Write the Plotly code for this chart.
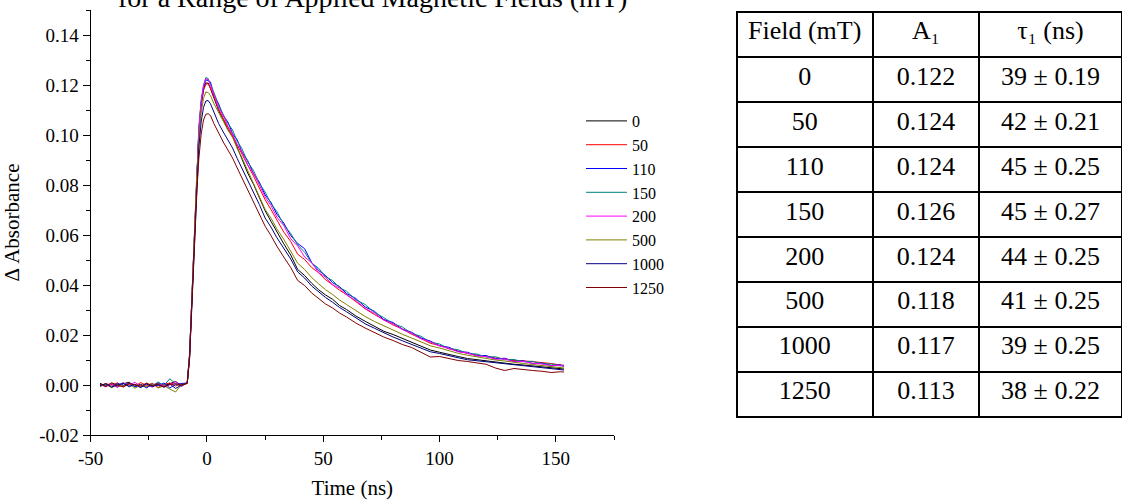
import plotly.graph_objects as go

# ---------------- data ----------------
fields = ["0", "50", "110", "150", "200", "500", "1000", "1250"]
colors = ["#000000", "#FF0000", "#0000FF", "#008080", "#FF00FF", "#808000", "#000080", "#800000"]

time_ns = [-46, -43.5, -41, -38.5, -36, -33.5, -31, -28.5, -26, -23.5, -21, -18.5, -16, -13.5, -11,
           -8.5, -7.5, -6.5, -5.5, -4.5, -3.5, -2.5, -1.5, -0.5,
           0.5, 1.5, 3, 5, 7, 9, 11, 13, 15,
           17.5, 20, 22.5, 25, 27.5, 30,
           33, 36, 39, 42, 45, 48, 51, 54, 57, 60,
           64, 68, 72, 76, 80, 84, 88, 92, 96, 100,
           104, 108, 112, 116, 120, 124, 128, 132, 136, 140,
           144, 148, 152, 153.5]

abs_0 = [0.0007, -0.0004, 0.0002, -0.0008, 0.0005, 0.0011, -0.0006, 0.0003, -0.0009, 0.0001, 0.0008, -0.0003, 0.0006, 0.0014, -0.0002,
         0.0008, 0.0118, 0.0355, 0.0612, 0.0845, 0.1012, 0.1120, 0.1182, 0.1208,
         0.1208, 0.1185, 0.1148, 0.1098, 0.1062, 0.1021, 0.0996, 0.0948, 0.0905,
         0.0848, 0.0803, 0.0752, 0.0697, 0.0655, 0.0612,
         0.0565, 0.0520, 0.0462, 0.0438, 0.0407, 0.0381, 0.0360, 0.0343, 0.0318, 0.0302,
         0.0276, 0.0255, 0.0234, 0.0215, 0.0202, 0.0186, 0.0170, 0.0156, 0.0140, 0.0131,
         0.0121, 0.0114, 0.0106, 0.0101, 0.0095, 0.0092, 0.0087, 0.0083, 0.0080, 0.0076,
         0.0073, 0.0068, 0.0066, 0.0064]

abs_50 = [-0.0003, 0.0006, -0.0001, 0.0009, -0.0008, 0.0004, -0.0005, 0.0010, -0.0002, 0.0007, -0.0010, 0.0003, 0.0008, -0.0004, 0.0005,
          0.0007, 0.0115, 0.0352, 0.0608, 0.0840, 0.1008, 0.1115, 0.1178, 0.1203,
          0.1205, 0.1188, 0.1150, 0.1104, 0.1066, 0.1031, 0.0992, 0.0960, 0.0921,
          0.0876, 0.0836, 0.0788, 0.0741, 0.0702, 0.0659,
          0.0612, 0.0574, 0.0523, 0.0502, 0.0470, 0.0449, 0.0421, 0.0401, 0.0379, 0.0362,
          0.0332, 0.0305, 0.0282, 0.0261, 0.0240, 0.0224, 0.0203, 0.0186, 0.0167, 0.0158,
          0.0145, 0.0136, 0.0126, 0.0120, 0.0113, 0.0108, 0.0105, 0.0098, 0.0097, 0.0094,
          0.0088, 0.0086, 0.0080, 0.0079]

abs_110 = [-0.0005, 0.0003, -0.0009, 0.0006, -0.0002, 0.0009, -0.0007, 0.0001, -0.0011, 0.0004, -0.0003, 0.0008, -0.0012, 0.0002, 0.0006,
           0.0008, 0.0118, 0.0358, 0.0615, 0.0852, 0.1020, 0.1130, 0.1190, 0.1220,
           0.1218, 0.1212, 0.1160, 0.1125, 0.1076, 0.1052, 0.1005, 0.0981, 0.0932,
           0.0898, 0.0845, 0.0812, 0.0760, 0.0731, 0.0684,
           0.0648, 0.0598, 0.0566, 0.0545, 0.0490, 0.0458, 0.0438, 0.0409, 0.0394, 0.0366,
           0.0346, 0.0312, 0.0295, 0.0262, 0.0250, 0.0223, 0.0211, 0.0188, 0.0176, 0.0157,
           0.0151, 0.0134, 0.0131, 0.0117, 0.0118, 0.0105, 0.0107, 0.0094, 0.0097, 0.0086,
           0.0088, 0.0078, 0.0081, 0.0074]

abs_150 = [0.0004, -0.0006, 0.0008, -0.0003, 0.0010, -0.0008, 0.0002, -0.0010, 0.0006, -0.0004, 0.0012, -0.0002, 0.0025, 0.0005, -0.0006,
           0.0010, 0.0125, 0.0365, 0.0625, 0.0860, 0.1030, 0.1140, 0.1200, 0.1230,
           0.1226, 0.1203, 0.1170, 0.1118, 0.1085, 0.1046, 0.1020, 0.0975, 0.0946,
           0.0892, 0.0858, 0.0806, 0.0772, 0.0725, 0.0695,
           0.0641, 0.0606, 0.0560, 0.0531, 0.0488, 0.0467, 0.0433, 0.0418, 0.0389, 0.0375,
           0.0341, 0.0322, 0.0290, 0.0270, 0.0245, 0.0232, 0.0206, 0.0195, 0.0171, 0.0164,
           0.0146, 0.0141, 0.0126, 0.0124, 0.0112, 0.0113, 0.0101, 0.0102, 0.0093, 0.0095,
           0.0085, 0.0084, 0.0076, 0.0078]

abs_200 = [0.0002, -0.0007, 0.0005, -0.0010, 0.0008, -0.0001, 0.0011, -0.0006, 0.0003, -0.0009, 0.0006, -0.0004, 0.0000, 0.0012, -0.0005,
           0.0009, 0.0120, 0.0360, 0.0620, 0.0855, 0.1025, 0.1135, 0.1195, 0.1224,
           0.1222, 0.1198, 0.1163, 0.1108, 0.1079, 0.1035, 0.1004, 0.0962, 0.0933,
           0.0880, 0.0847, 0.0800, 0.0752, 0.0718, 0.0672,
           0.0638, 0.0585, 0.0556, 0.0512, 0.0489, 0.0450, 0.0431, 0.0400, 0.0388, 0.0360,
           0.0338, 0.0306, 0.0287, 0.0259, 0.0245, 0.0222, 0.0207, 0.0185, 0.0173, 0.0156,
           0.0147, 0.0133, 0.0128, 0.0116, 0.0114, 0.0103, 0.0104, 0.0093, 0.0094, 0.0087,
           0.0084, 0.0077, 0.0079, 0.0074]

abs_500 = [-0.0006, 0.0004, -0.0011, 0.0002, -0.0004, 0.0007, -0.0013, 0.0000, -0.0007, 0.0005, -0.0012, -0.0003, -0.0016, -0.0028, 0.0002,
           0.0006, 0.0112, 0.0345, 0.0592, 0.0820, 0.0983, 0.1088, 0.1147, 0.1172,
           0.1170, 0.1158, 0.1125, 0.1090, 0.1052, 0.1020, 0.0990, 0.0946, 0.0910,
           0.0858, 0.0812, 0.0760, 0.0702, 0.0668, 0.0625,
           0.0583, 0.0537, 0.0487, 0.0462, 0.0430, 0.0405, 0.0381, 0.0362, 0.0340, 0.0322,
           0.0297, 0.0274, 0.0254, 0.0236, 0.0219, 0.0203, 0.0188, 0.0172, 0.0157, 0.0148,
           0.0136, 0.0127, 0.0119, 0.0112, 0.0106, 0.0100, 0.0096, 0.0090, 0.0086, 0.0082,
           0.0077, 0.0073, 0.0069, 0.0068]

abs_1000 = [-0.0002, 0.0005, -0.0008, 0.0001, 0.0006, -0.0005, 0.0003, -0.0010, 0.0004, -0.0006, 0.0002, -0.0009, 0.0005, -0.0014, 0.0000,
            0.0007, 0.0108, 0.0332, 0.0570, 0.0790, 0.0950, 0.1052, 0.1110, 0.1136,
            0.1138, 0.1125, 0.1090, 0.1046, 0.1012, 0.0978, 0.0948, 0.0906, 0.0868,
            0.0818, 0.0776, 0.0722, 0.0668, 0.0632, 0.0590,
            0.0548, 0.0504, 0.0452, 0.0428, 0.0396, 0.0372, 0.0350, 0.0331, 0.0310, 0.0293,
            0.0268, 0.0245, 0.0227, 0.0209, 0.0192, 0.0177, 0.0163, 0.0150, 0.0133, 0.0126,
            0.0116, 0.0109, 0.0101, 0.0097, 0.0092, 0.0089, 0.0085, 0.0080, 0.0078, 0.0073,
            0.0070, 0.0064, 0.0062, 0.0060]

abs_1250 = [0.0003, -0.0006, 0.0009, -0.0002, -0.0007, 0.0006, 0.0001, -0.0005, 0.0008, -0.0003, 0.0004, -0.0008, 0.0002, 0.0005, -0.0001,
            0.0006, 0.0103, 0.0318, 0.0545, 0.0755, 0.0905, 0.1003, 0.1060, 0.1083,
            0.1085, 0.1078, 0.1045, 0.1006, 0.0972, 0.0940, 0.0908, 0.0868, 0.0830,
            0.0778, 0.0735, 0.0684, 0.0635, 0.0598, 0.0556,
            0.0512, 0.0470, 0.0418, 0.0398, 0.0368, 0.0346, 0.0324, 0.0308, 0.0288, 0.0272,
            0.0248, 0.0228, 0.0210, 0.0192, 0.0178, 0.0162, 0.0150, 0.0132, 0.0112, 0.0114,
            0.0106, 0.0098, 0.0094, 0.0088, 0.0083, 0.0068, 0.0058, 0.0066, 0.0061, 0.0058,
            0.0055, 0.0050, 0.0053, 0.0052]

series = [abs_0, abs_50, abs_110, abs_150, abs_200, abs_500, abs_1000, abs_1250]

x_tickvals = [-50, 0, 50, 100, 150]
x_ticktext = ["-50", "0", "50", "100", "150"]
y_tickvals = [-0.02, 0.00, 0.02, 0.04, 0.06, 0.08, 0.10, 0.12, 0.14]
y_ticktext = ["-0.02", "0.00", "0.02", "0.04", "0.06", "0.08", "0.10", "0.12", "0.14"]

# table data
table_field = ["0", "50", "110", "150", "200", "500", "1000", "1250"]
table_A1 = ["0.122", "0.124", "0.124", "0.126", "0.124", "0.118", "0.117", "0.113"]
table_tau = [39, 42, 45, 45, 44, 41, 39, 38]
table_tau_err = ["0.19", "0.21", "0.25", "0.27", "0.25", "0.25", "0.25", "0.22"]
table_header = ["Field\u00a0(mT)", "A\u2081", "\u03c4\u2081\u00a0(ns)"]

title_text = "for a Range of Applied Magnetic Fields (mT)"

# ---------------- figure ----------------
FONT = "Liberation Serif, Times New Roman, serif"
W, H = 1122, 504

fig = go.Figure()
for name, col, vals in zip(fields, colors, series):
    assert len(vals) == len(time_ns), name
    fig.add_trace(go.Scatter(x=time_ns, y=vals, mode="lines", name=name,
                             line=dict(color=col, width=1), xaxis="x", yaxis="y"))

tau_text = [f"{t}\u00a0±\u00a0{e}" for t, e in zip(table_tau, table_tau_err)]
fig.add_trace(go.Table(
    domain=dict(x=[736.7 / W, 1.0], y=[0.0, 1 - 11.7 / H]),
    columnwidth=[136, 106.6, 142.4],
    header=dict(values=table_header, height=45.3, align="center",
                fill_color="white", line=dict(color="black", width=2),
                font=dict(family=FONT, size=26, color="black")),
    cells=dict(values=[table_field, table_A1, tau_text], height=45, align="center",
               fill_color="white", line=dict(color="black", width=2),
               font=dict(family=FONT, size=26, color="black")),
))

axis_common = dict(showline=True, linecolor="black", linewidth=1.3, showgrid=False,
                   zeroline=False, ticks="outside", tickcolor="black", tickwidth=1.3,
                   mirror=False, automargin=False)

fig.update_layout(
    width=W, height=H,
    margin=dict(l=0, r=0, t=0, b=0, autoexpand=False),
    paper_bgcolor="white", plot_bgcolor="white",
    font=dict(family=FONT, color="black"),
    showlegend=True,
    legend=dict(x=581.0 / W, y=1 - 104.0 / H, xanchor="left", yanchor="top",
                bgcolor="rgba(0,0,0,0)", borderwidth=0,
                font=dict(family=FONT, size=16, color="black"),
                itemwidth=41, tracegroupgap=0),
    xaxis=dict(domain=[90.7 / W, 614.0 / W], range=[-50, 175],
               tickvals=x_tickvals, ticktext=x_ticktext, ticklen=6,
               tickfont=dict(family=FONT, size=19, color="black"),
               minor=dict(dtick=25, tick0=0, ticks="outside", ticklen=4, tickcolor="black", tickwidth=1.3),
               title=dict(text="Time (ns)", font=dict(family=FONT, size=21, color="black"), standoff=12),
               anchor="y", **axis_common),
    yaxis=dict(domain=[(H - 435.0) / H, (H - 10.0) / H], range=[-0.02, 0.15],
               tickvals=y_tickvals, ticktext=y_ticktext, ticklen=7,
               tickfont=dict(family=FONT, size=19, color="black"),
               minor=dict(dtick=0.01, tick0=0, ticks="outside", ticklen=4, tickcolor="black", tickwidth=1.3),
               title=dict(text="Δ Absorbance", font=dict(family=FONT, size=21, color="black"), standoff=14),
               anchor="x", **axis_common),
    annotations=[dict(text=title_text, xref="paper", yref="paper", x=372.0 / W, y=1 + 2.4 / H,
                      xanchor="center", yanchor="middle", showarrow=False,
                      font=dict(family=FONT, size=28, color="black"))],
)

fig.write_html("out.html")
